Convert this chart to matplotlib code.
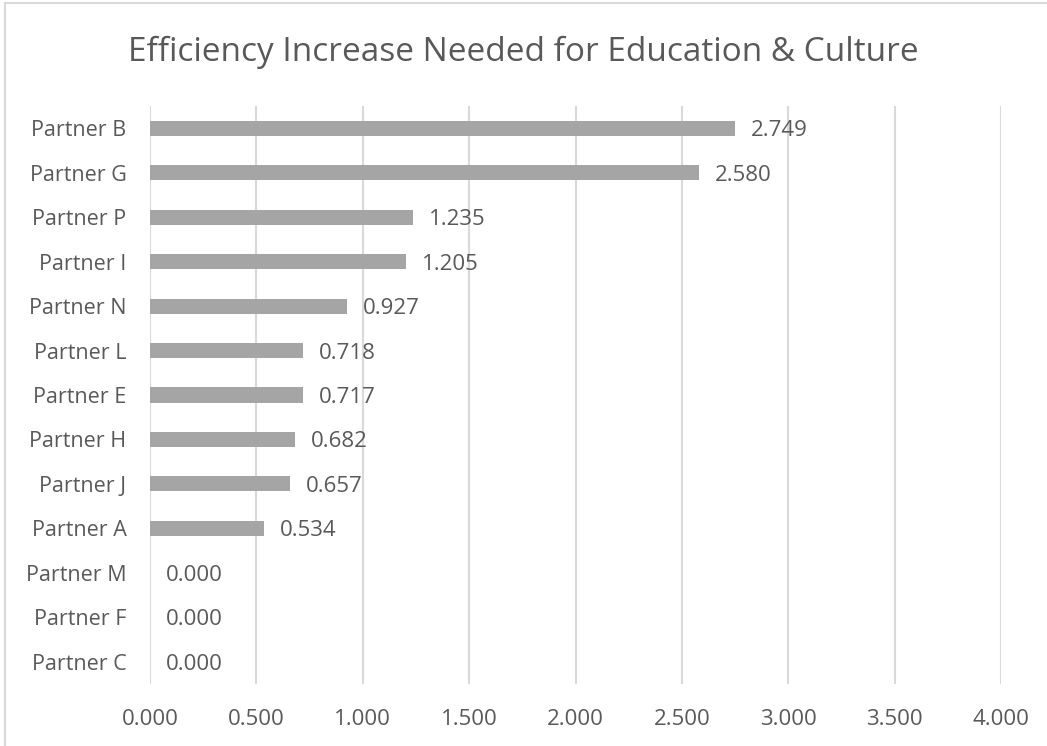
import matplotlib.pyplot as plt
from matplotlib.lines import Line2D

partners = ["Partner B", "Partner G", "Partner P", "Partner I", "Partner N",
            "Partner L", "Partner E", "Partner H", "Partner J", "Partner A",
            "Partner M", "Partner F", "Partner C"]
increase = [2.749, 2.580, 1.235, 1.205, 0.927, 0.718, 0.717, 0.682,
            0.657, 0.534, 0.000, 0.000, 0.000]
x_ticks = [0.0, 0.5, 1.0, 1.5, 2.0, 2.5, 3.0, 3.5, 4.0]

TEXT = "#595959"
BAR = "#A5A5A5"
GRID = "#D9D9D9"

plt.rcParams['font.family'] = ['Open Sans', 'DejaVu Sans']

fig = plt.figure(figsize=(10.47, 7.46), dpi=100)
ax = fig.add_axes([150 / 1047, 1 - 684 / 746, 851 / 1047, 578 / 746])

ypos = list(range(len(partners)))
ax.barh(ypos, increase, height=0.34, color=BAR, zorder=3)

for y, v in zip(ypos, increase):
    ax.annotate(f"{v:.3f}", (v, y), xytext=(11.5, 0), textcoords="offset points",
                va="center_baseline", ha="left", fontsize=16, color=TEXT, zorder=4)

ax.set_xlim(0, 4)
ax.set_ylim(len(partners) - 0.5, -0.5)
ax.set_xticks(x_ticks)
ax.set_xticklabels([f"{t:.3f}" for t in x_ticks])
ax.set_yticks(ypos)
ax.set_yticklabels(partners, va="center_baseline")
ax.tick_params(axis="both", length=0, labelcolor=TEXT)
ax.tick_params(axis="x", pad=18, labelsize=16)
ax.tick_params(axis="y", pad=17, labelsize=15.5)
ax.xaxis.grid(True, color=GRID, linewidth=1.5, zorder=0)
for s in ax.spines.values():
    s.set_visible(False)

fig.text(0.5, 1 - 61 / 746, "Efficiency Increase Needed for Education & Culture",
         ha="center", va="baseline", fontsize=24, color=TEXT)

# light outline of the chart area
fig.add_artist(Line2D([5 / 1047, 5 / 1047], [0, 1 - 3 / 746], color=GRID,
                      linewidth=1.5, transform=fig.transFigure))
fig.add_artist(Line2D([5 / 1047, 1], [1 - 3 / 746, 1 - 3 / 746], color=GRID,
                      linewidth=1.5, transform=fig.transFigure))

fig.savefig("out.png", dpi=100)
